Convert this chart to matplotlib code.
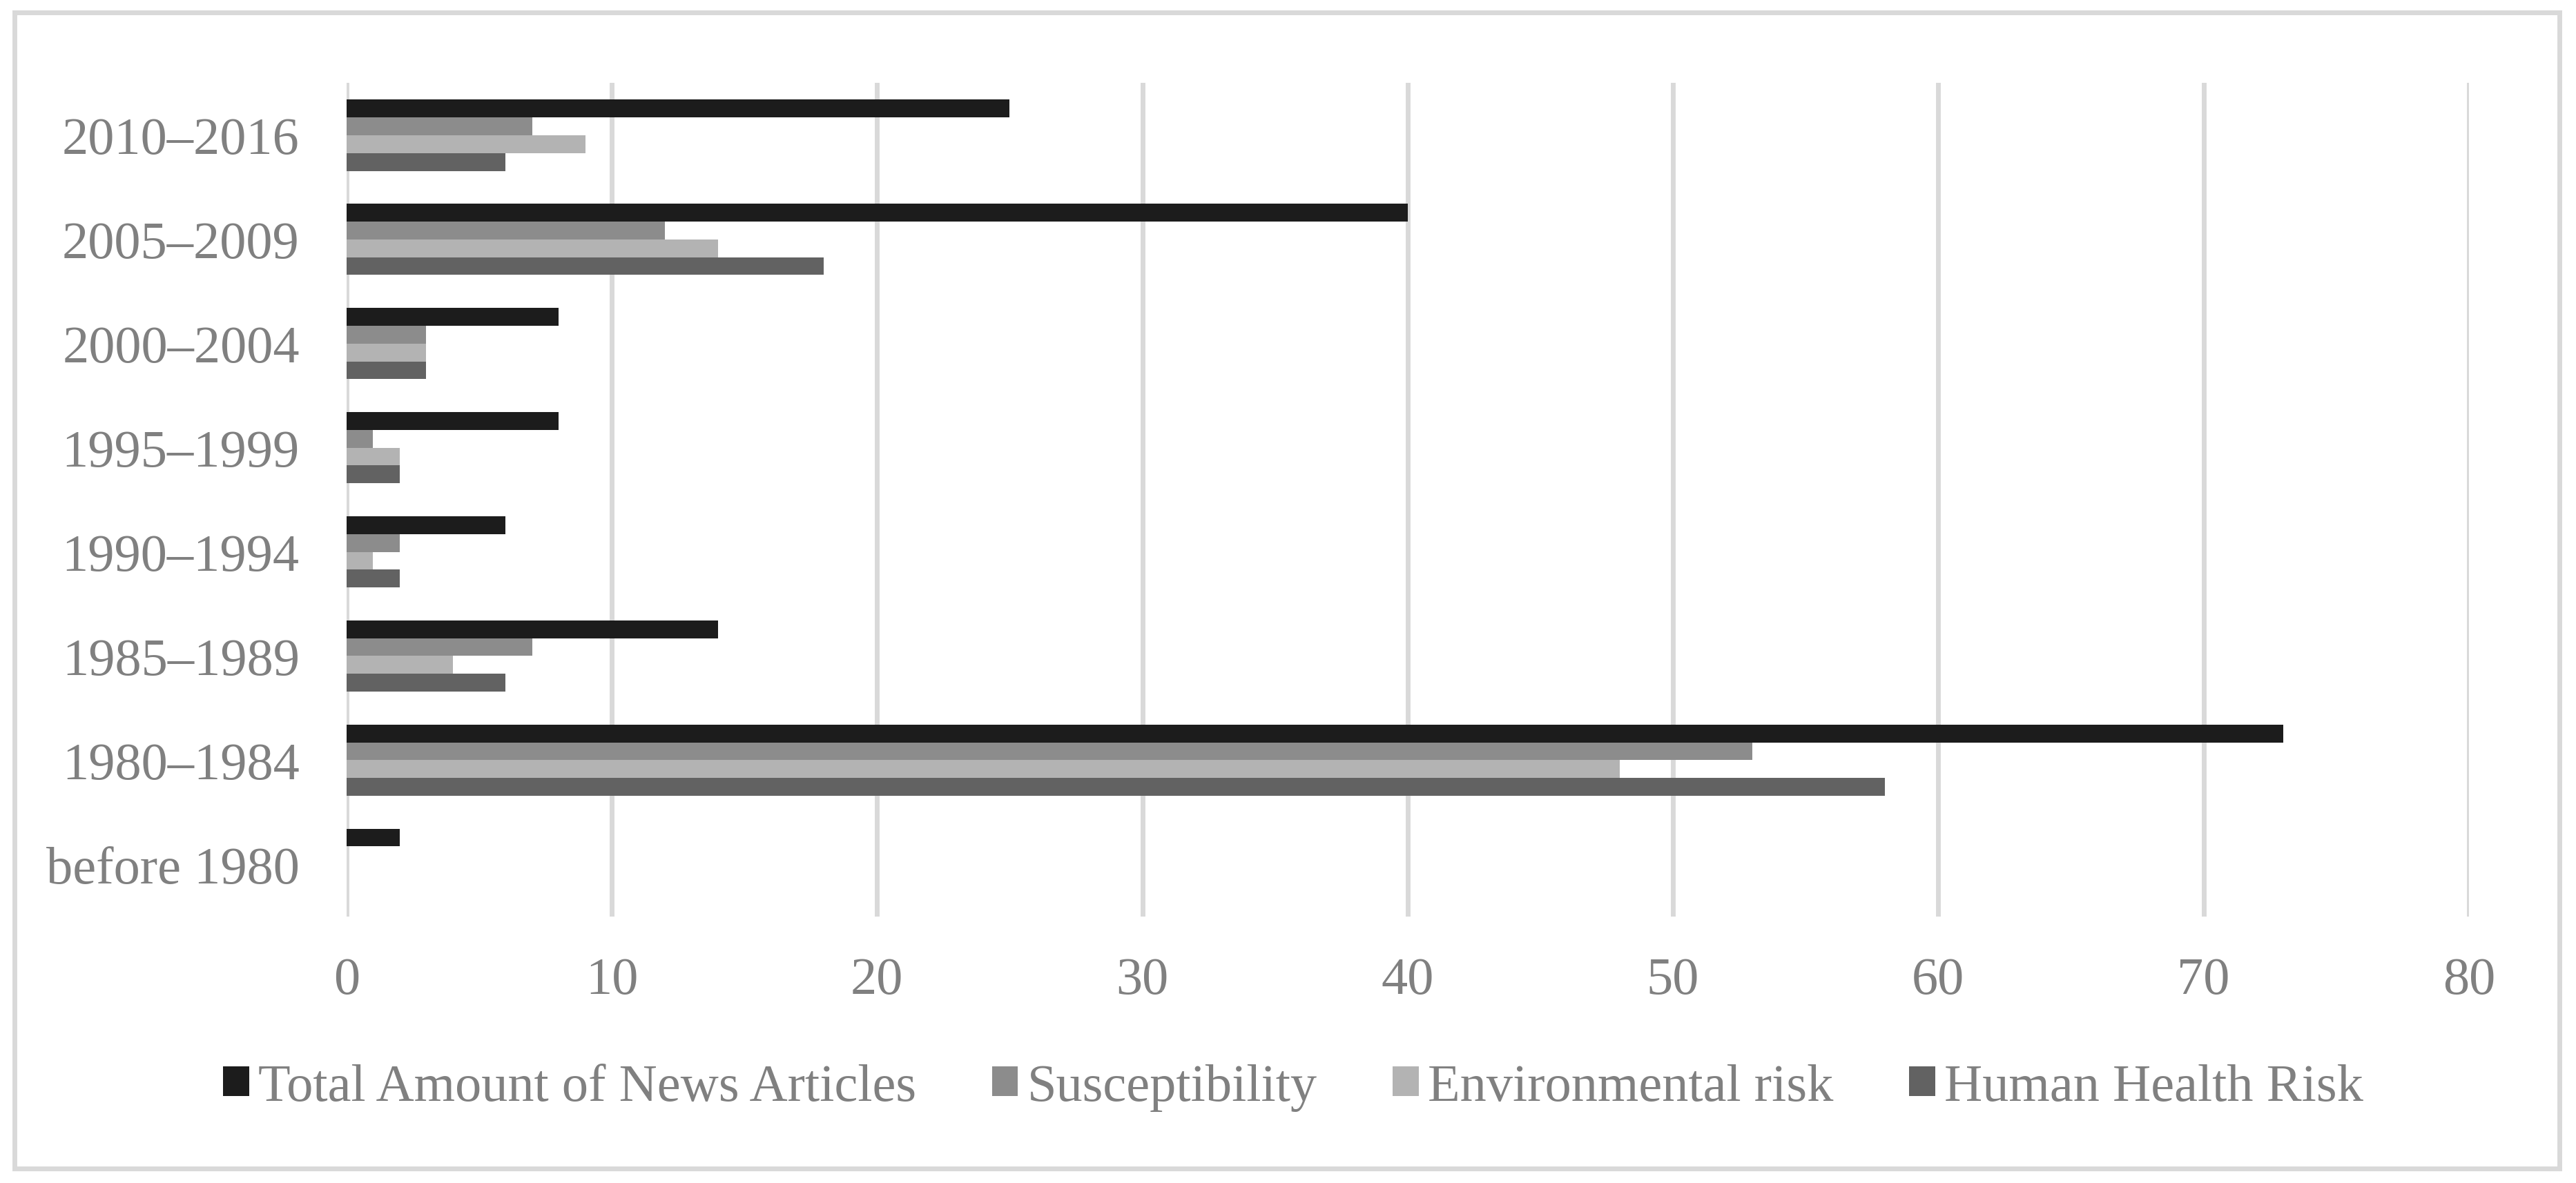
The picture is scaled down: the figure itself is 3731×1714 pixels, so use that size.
import matplotlib
matplotlib.use("Agg")
import matplotlib.pyplot as plt
import numpy as np
from matplotlib.patches import Rectangle, Patch

periods = ["before 1980", "1980–1984", "1985–1989", "1990–1994",
           "1995–1999", "2000–2004", "2005–2009", "2010–2016"]
total = [2, 73, 14, 6, 8, 8, 40, 25]
susceptibility = [0, 53, 7, 2, 1, 3, 12, 7]
environmental = [0, 48, 4, 1, 2, 3, 14, 9]
human_health = [0, 58, 6, 2, 2, 3, 18, 6]

series_names = ["Total Amount of News Articles", "Susceptibility",
                "Environmental risk", "Human Health Risk"]
series_vals = [total, susceptibility, environmental, human_health]
series_cols = ["#1c1c1c", "#8c8c8c", "#b3b3b3", "#626262"]

txt_col = "#808080"
grid_col = "#d9d9d9"
fs = 55

plt.rcParams["font.family"] = ["Liberation Serif", "DejaVu Serif"]

fig = plt.figure(figsize=(37.31, 17.15), dpi=100)
ax = fig.add_axes([0.1345, 0.2251, 0.8239, 0.7043])

y = np.arange(len(periods))
bh = 0.172
# Total on top of each group, Human Health Risk at the bottom
offsets = [1.5 * bh, 0.5 * bh, -0.5 * bh, -1.5 * bh]
for vals, off, col, name in zip(series_vals, offsets, series_cols, series_names):
    ax.barh(y + off, vals, height=bh, color=col, label=name, zorder=3)

ax.set_xlim(0, 80)
ax.set_ylim(-0.5, len(periods) - 0.5)
ax.set_xticks(range(0, 81, 10))
ax.set_yticks(y)
ax.set_yticklabels(periods)
ax.tick_params(axis="both", length=0, labelsize=fs, labelcolor=txt_col)
ax.tick_params(axis="y", pad=49)
ax.tick_params(axis="x", pad=42)
ax.grid(axis="x", color=grid_col, linewidth=5, zorder=0)
for s in ax.spines.values():
    s.set_visible(False)

handles = [Patch(facecolor=c, edgecolor="none") for c in series_cols]
leg = fig.legend(handles, series_names, loc="center", bbox_to_anchor=(0.502, 0.081),
                 ncol=4, frameon=False, fontsize=fs, handlelength=0.49,
                 handleheight=0.49, handletextpad=0.17, columnspacing=1.44,
                 labelcolor=txt_col)

# outer border of the chart area
fig.patches.append(Rectangle((21 / 3731, 1 - 1694 / 1715), (3707 - 21) / 3731,
                             (1694 - 19) / 1715, transform=fig.transFigure,
                             fill=False, edgecolor=grid_col, linewidth=5))

fig.savefig("out.png", dpi=100, facecolor="white")
